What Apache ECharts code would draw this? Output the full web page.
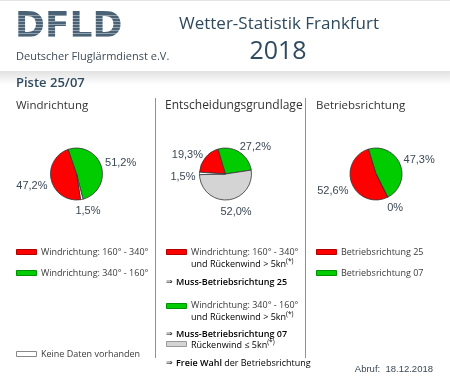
<!DOCTYPE html>
<html><head><meta charset="utf-8">
<script src="https://cdn.jsdelivr.net/npm/echarts@6/dist/echarts.min.js"></script>
<style>html,body{margin:0;padding:0;background:#fff}#c{width:450px;height:380px}</style>
</head><body><div id="c"></div>
<script>
// ---- data ----
const windCats = ['Windrichtung: 340° - 160°', 'Keine Daten vorhanden', 'Windrichtung: 160° - 340°'];
const windValues = [51.2, 1.5, 47.2];
const entCats = ['Muss-Betriebsrichtung 25', 'Muss-Betriebsrichtung 07', 'Freie Wahl', 'Keine Daten vorhanden'];
const entValues = [19.3, 27.2, 52.0, 1.5];
const betrCats = ['Betriebsrichtung 07', 'Keine Daten vorhanden', 'Betriebsrichtung 25'];
const betrValues = [47.3, 0, 52.6];

const RED = '#ff0000', GREEN = '#00cc00', GRAY = '#d4d4d4', WHITE = '#ffffff';
const windColors = [GREEN, WHITE, RED];
const entColors = [RED, GREEN, GRAY, WHITE];
const betrColors = [GREEN, WHITE, RED];

function fmt(v) { return v === 0 ? '0%' : v.toFixed(1).replace('.', ',') + '%'; }
function mk(cats, vals, cols) { return cats.map((n, i) => ({ name: n, value: vals[i], itemStyle: { color: cols[i] } })); }

function pieSeries(center, startAngle, data) {
  const cy = center[1];
  return {
    type: 'pie', center: center, radius: 26, startAngle: startAngle, clockwise: true,
    animation: false, silent: true, minAngle: 0, avoidLabelOverlap: true,
    itemStyle: { borderColor: '#333', borderWidth: 0.8 },
    label: { show: true, position: 'outside', formatter: p => fmt(p.value), overflow: 'none',
      distanceToLabelLine: 0,
      fontFamily: 'Liberation Sans, Arial', fontSize: 11, color: '#3b4855' },
    labelLine: { show: false, length: 8, length2: 0 },
    labelLayout: function (p) {
      const ly = p.labelRect.y + p.labelRect.height / 2;
      const rel = ly - cy;
      const dy = rel > -3 ? 4 : (rel < -18 ? 2 : -1);
      const far = rel > 32;
      return { dx: (p.align === 'right' ? 4 : -4) - (far ? 4 : 0), dy: dy };
    },
    emphasis: { disabled: true },
    data: data
  };
}

const chart = echarts.init(document.getElementById('c'), null, { renderer: 'canvas' });

const OS = '"Open Sans", "Noto Sans", sans-serif';
const txtCol = '#3a3a3a';
const LS = 9;
function T(x, y, text, size, color, weight, align, family) {
  return { type: 'text', x: x, y: y, silent: true, style: { text: text, fill: color || txtCol,
    font: (weight || 'normal') + ' ' + size + 'px ' + (family || OS), textAlign: align || 'left', textVerticalAlign: 'middle' } };
}
function R(x, y, w, h, fill, stroke) {
  return { type: 'rect', silent: true, shape: { x: x, y: y, width: w, height: h }, style: { fill: fill, stroke: stroke, lineWidth: 1 } };
}
function RT(x, y, text, rich) {
  return { type: 'text', x: x, y: y, silent: true, style: { text: text, rich: rich, textVerticalAlign: 'middle', textAlign: 'left' } };
}
const base = { fontFamily: '"Open Sans", sans-serif', fontSize: LS, color: txtCol };
const rich = {
  n: Object.assign({}, base),
  a: Object.assign({}, base, { fontFamily: '"DejaVu Sans", sans-serif', fontSize: 8 }),
  b: Object.assign({}, base, { fontWeight: '600' }),
  s: Object.assign({}, base, { fontSize: 6.5, verticalAlign: 'top', padding: [0, 0, 5, 0] })
};

const graphics = [];
// header
graphics.push(R(0, 0, 450, 1, '#e4e4e4'));
graphics.push({ type: 'rect', silent: true, shape: { x: 0, y: 71, width: 450, height: 14 },
  style: { fill: new echarts.graphic.LinearGradient(0, 0, 0, 1, [{ offset: 0, color: '#e2e2e2' }, { offset: 1, color: '#ffffff' }]) } });
graphics.push(T(15, 28, 'DFLD', 36, '#4a6276', '900', 'left', '"DejaVu Sans", sans-serif'));
for (let yy = 15; yy < 42; yy += 3) graphics.push(R(14, yy, 110, 0.8, 'rgba(255,255,255,0.55)'));
graphics.push(T(16, 57, 'Deutscher Fluglärmdienst e.V.', 11, '#3d4b56'));
graphics.push(T(279, 24, 'Wetter-Statistik Frankfurt', 17, '#2f4a5e', 'normal', 'center'));
graphics.push(T(278, 52, '2018', 25, '#2f4a5e', 'normal', 'center'));
graphics.push(T(16, 83, 'Piste 25/07', 13, '#2f4a5e', '600'));
// column titles
graphics.push(T(16, 106, 'Windrichtung', 11.5, '#333'));
graphics.push(T(165, 106, 'Entscheidungsgrundlage', 12, '#333'));
graphics.push(T(316, 106, 'Betriebsrichtung', 11.5, '#333'));
// dividers
graphics.push(R(155, 98, 1, 260, '#86929b'));
graphics.push(R(305, 98, 1, 260, '#86929b'));
// left legend
graphics.push(R(16.5, 249.5, 20, 5, RED, '#b00000'));
graphics.push(T(41, 252, 'Windrichtung: 160° - 340°', LS));
graphics.push(R(16.5, 270.5, 20, 5, GREEN, '#009000'));
graphics.push(T(41, 273, 'Windrichtung: 340° - 160°', LS));
graphics.push(R(16.5, 351.5, 20, 5, WHITE, '#888'));
graphics.push(T(41, 354, 'Keine Daten vorhanden', LS));
// middle legend
graphics.push(R(166.5, 249.5, 20, 5, RED, '#b00000'));
graphics.push(T(191, 252, 'Windrichtung: 160° - 340°', LS));
graphics.push(RT(191, 264, '{n|und Rückenwind > 5kn}{s|(*)}', rich));
graphics.push(RT(166, 282, '{a|⇒} {b|Muss-Betriebsrichtung 25}', rich));
graphics.push(R(166.5, 303.5, 20, 5, GREEN, '#009000'));
graphics.push(T(191, 305, 'Windrichtung: 340° - 160°', LS));
graphics.push(RT(191, 317, '{n|und Rückenwind > 5kn}{s|(*)}', rich));
graphics.push(RT(166, 334, '{a|⇒} {b|Muss-Betriebsrichtung 07}', rich));
graphics.push(R(166.5, 341.5, 20, 5, GRAY, '#999'));
graphics.push(RT(191, 345, '{n|Rückenwind ≤ 5kn}{s|(*)}', rich));
graphics.push(RT(166, 363, '{a|⇒} {b|Freie Wahl}{n| der Betriebsrichtung}', rich));
// right legend
graphics.push(R(316.5, 249.5, 20, 5, RED, '#b00000'));
graphics.push(T(341, 252, 'Betriebsrichtung 25', LS));
graphics.push(R(316.5, 270.5, 20, 5, GREEN, '#009000'));
graphics.push(T(341, 273, 'Betriebsrichtung 07', LS));
// footer
graphics.push(T(433, 369, 'Abruf:  18.12.2018', 9.5, '#3b4855', 'normal', 'right', 'Liberation Sans, Arial'));

chart.setOption({
  backgroundColor: '#ffffff',
  animation: false,
  series: [
    pieSeries([76.5, 174], 109, mk(windCats, windValues, windColors)),
    pieSeries([225.5, 174], 176, mk(entCats, entValues, entColors)),
    pieSeries([376, 174], 107, mk(betrCats, betrValues, betrColors))
  ],
  graphic: { elements: graphics }
});
</script></body></html>
